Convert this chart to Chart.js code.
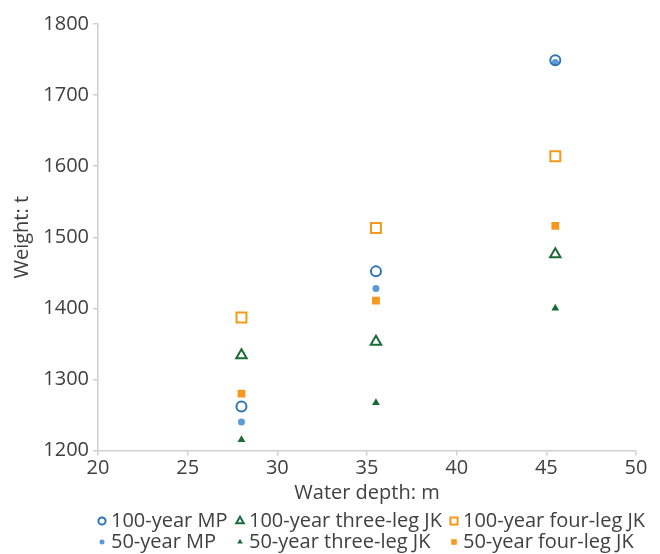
<!DOCTYPE html>
<html>
<head>
<meta charset="utf-8">
<script src="https://cdn.jsdelivr.net/npm/chart.js@4/dist/chart.umd.min.js"></script>
<style>
  html, body { margin: 0; padding: 0; background: #fff; }
  #wrap { width: 660px; height: 554px; }
</style>
</head>
<body>
<div id="wrap"><canvas id="weightChart" width="660" height="554"></canvas></div>
<script>
// Water depth (m) for each design case
const depths = [28, 35.5, 45.5];

// Structure weight (t)
const mp100 = [1262, 1452, 1749];
const mp50 = [1240, 1428, 1746];
const threeLeg100 = [1334, 1353, 1476];
const threeLeg50 = [1215, 1267, 1400];
const fourLeg100 = [1387, 1513, 1614];
const fourLeg50 = [1280, 1411, 1516];

const seriesNames = [
  '100-year MP', '100-year three-leg JK', '100-year four-leg JK',
  '50-year MP', '50-year three-leg JK', '50-year four-leg JK'
];

const xTicks = [20, 25, 30, 35, 40, 45, 50];
const yTicks = [1200, 1300, 1400, 1500, 1600, 1700, 1800];

const BLUE = '#2e75b6';
const LIGHT_BLUE = '#5b9bd5';
const GREEN = '#1b6b36';
const ORANGE = '#f7981d';
const AXIS = '#d0d0d0';
const TEXT = '#404040';
const FONT = '"Open Sans", "Noto Sans", sans-serif';

Chart.defaults.font.family = FONT;
Chart.defaults.font.size = 20;
Chart.defaults.color = TEXT;

const toPoints = ys => ys.map((y, i) => ({ x: depths[i], y: y }));

function series(label, ys, style, radius, color, hollow) {
  return {
    label: label,
    data: toPoints(ys),
    pointStyle: style,
    pointRadius: radius,
    pointHoverRadius: radius,
    borderWidth: hollow ? 2 : 0,
    borderColor: color,
    backgroundColor: hollow ? 'rgba(255,255,255,0)' : color
  };
}

// two-row legend with items lined up in columns
const gridLegend = {
  id: 'gridLegend',
  afterDraw(chart) {
    const ctx = chart.ctx;
    const cols = [102, 240, 454];
    const rows = [521, 542];
    ctx.save();
    chart.data.datasets.forEach((ds, i) => {
      const x = cols[i % 3];
      const y = rows[Math.floor(i / 3)];
      ctx.fillStyle = ds.backgroundColor;
      ctx.strokeStyle = ds.borderColor;
      ctx.lineWidth = ds.borderWidth;
      Chart.helpers.drawPoint(ctx, {
        pointStyle: ds.pointStyle,
        radius: ds.pointRadius * 0.72,
        rotation: 0,
        borderWidth: ds.borderWidth
      }, x, y);
      ctx.fillStyle = TEXT;
      ctx.font = '20px ' + FONT;
      ctx.textBaseline = 'middle';
      ctx.textAlign = 'left';
      ctx.fillText(ds.label, x + 9, y);
    });
    ctx.restore();
  }
};

new Chart(document.getElementById('weightChart'), {
  type: 'scatter',
  data: {
    datasets: [
      series(seriesNames[0], mp100, 'circle', 5, BLUE, true),
      series(seriesNames[1], threeLeg100, 'triangle', 6, GREEN, true),
      series(seriesNames[2], fourLeg100, 'rect', 7, ORANGE, true),
      series(seriesNames[3], mp50, 'circle', 3.5, LIGHT_BLUE, false),
      series(seriesNames[4], threeLeg50, 'triangle', 4.5, GREEN, false),
      series(seriesNames[5], fourLeg50, 'rect', 5.5, ORANGE, false)
    ]
  },
  options: {
    responsive: false,
    animation: false,
    layout: { padding: { top: 24, right: 24, bottom: 49, left: 0 } },
    plugins: {
      legend: { display: false },
      tooltip: { enabled: false }
    },
    scales: {
      x: {
        type: 'linear',
        min: xTicks[0],
        max: xTicks[xTicks.length - 1],
        afterBuildTicks: scale => { scale.ticks = xTicks.map(v => ({ value: v })); },
        afterFit: scale => { scale.height = 54.5; },
        grid: { drawOnChartArea: false, tickLength: 5, color: AXIS, lineWidth: 1.5 },
        border: { color: AXIS, width: 1.5 },
        ticks: { padding: 1, color: TEXT, callback: v => String(v) },
        title: { display: true, text: 'Water depth: m', color: TEXT, padding: 0 }
      },
      y: {
        type: 'linear',
        min: yTicks[0],
        max: yTicks[yTicks.length - 1],
        afterBuildTicks: scale => { scale.ticks = yTicks.map(v => ({ value: v })); },
        afterFit: scale => { scale.width = 98; },
        grid: { drawOnChartArea: false, tickLength: 5, color: AXIS, lineWidth: 1.5 },
        border: { color: AXIS, width: 1.5 },
        ticks: { padding: 4, color: TEXT, callback: v => String(v) },
        title: { display: true, text: 'Weight: t', color: TEXT, padding: { top: 10, bottom: 0 } }
      }
    }
  },
  plugins: [gridLegend]
});
</script>
</body>
</html>
